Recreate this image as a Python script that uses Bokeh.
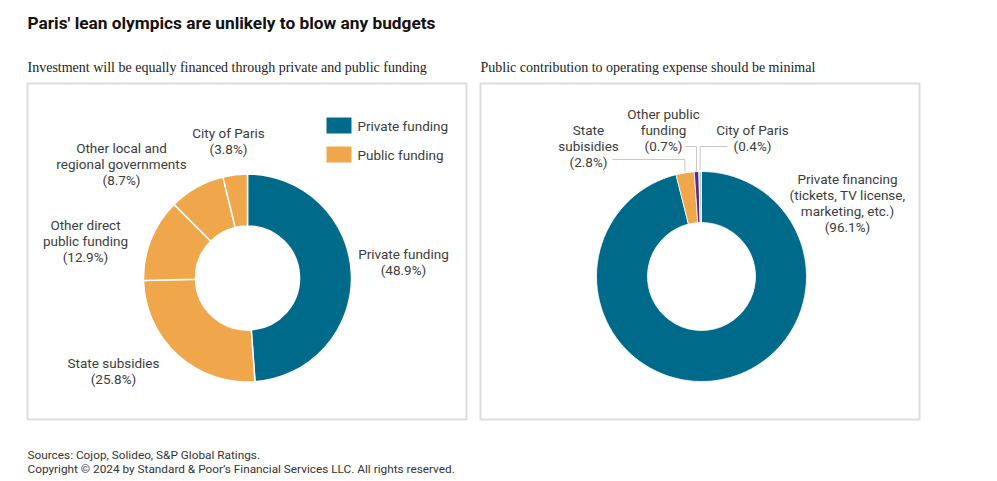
import math
from bokeh.plotting import figure
from bokeh.models import Range1d, ColumnDataSource
from bokeh.core.properties import value
from bokeh.embed import file_html
from bokeh.resources import INLINE

# ---------------- data ----------------
title_text = "Paris' lean olympics are unlikely to blow any budgets"
left_subtitle = "Investment will be equally financed through private and public funding"
right_subtitle = "Public contribution to operating expense should be minimal"
footer_lines = ["Sources: Cojop, Solideo, S&P Global Ratings.",
                "Copyright \u00a9 2024 by Standard & Poor\u2019s Financial Services LLC. All rights reserved."]

left_names = ["Private funding", "State subsidies", "Other direct\npublic funding",
              "Other local and\nregional governments", "City of Paris"]
left_values = [48.9, 25.8, 12.9, 8.7, 3.8]
left_groups = ["Private funding", "Public funding", "Public funding", "Public funding", "Public funding"]

right_names = ["Private financing\n(tickets, TV license,\nmarketing, etc.)", "State\nsubisidies",
               "Other public\nfunding", "City of Paris"]
right_values = [96.1, 2.8, 0.7, 0.4]

legend_items = ["Private funding", "Public funding"]

# ---------------- styles / layout ----------------
TEAL = "#006a8a"
ORANGE = "#f0a64a"
PURPLE = "#5b2a86"
LIGHT = "#b7d0d8"
group_colors = {"Private funding": TEAL, "Public funding": ORANGE}
right_colors = [TEAL, ORANGE, PURPLE, LIGHT]
SANS = "Roboto"
SERIF = "Liberation Serif"
LABEL_COLOR = "#3c3c3c"
LABEL_SIZE = "13.5px"

W, H = 985, 478
def Y(ry):
    return H - ry

p = figure(width=W, height=H, x_range=Range1d(0, W), y_range=Range1d(0, H),
           output_backend="svg", toolbar_location=None, min_border=0,
           x_axis_location=None, y_axis_location=None)
p.grid.visible = False
p.outline_line_color = None
p.background_fill_color = "white"
p.border_fill_color = "white"

# panel boxes
p.quad(left=[27, 480], right=[466, 919], bottom=[Y(419), Y(419)], top=[Y(83), Y(83)],
       fill_color=None, line_color="#dddddd", line_width=2)

def donut(values, colors, cx, cy, r_in, r_out, lw):
    total = sum(values)
    starts, ends = [], []
    cum = 0.0
    for v in values:
        starts.append(math.pi / 2 - 2 * math.pi * cum / total)
        cum += v
        ends.append(math.pi / 2 - 2 * math.pi * cum / total)
    src = ColumnDataSource(dict(start=starts, end=ends, color=colors))
    p.annular_wedge(x=cx, y=cy, inner_radius=r_in, outer_radius=r_out,
                    start_angle="start", end_angle="end", direction="clock",
                    fill_color="color", line_color="white", line_width=lw, source=src)
    mids = []
    cum = 0.0
    for v in values:
        mids.append(2 * math.pi * (cum + v / 2) / total)
        cum += v
    return mids

# left donut
lcx, lcy = 247, Y(277.5)
donut(left_values, [group_colors[g] for g in left_groups], lcx, lcy, 52, 104, 1.5)

# right donut
rcx, rcy = 701, Y(276)
rmids = donut(right_values, right_colors, rcx, rcy, 54, 105, 0.8)

# leader lines for right small slices
R_OUT = 105
lead_xs, lead_ys = [], []
elbow_y = [None, 159, 146, 146]
end_x = [None, 612, 685, 727]
for i in range(1, 4):
    a = rmids[i]
    sx = rcx + (R_OUT + 1) * math.sin(a)
    sy = rcy + (R_OUT + 1) * math.cos(a)
    lead_xs.append([sx, sx, end_x[i]])
    lead_ys.append([sy, Y(elbow_y[i]), Y(elbow_y[i])])
p.multi_line(xs=lead_xs, ys=lead_ys, line_color="#c8c8c8", line_width=1)

# labels
def fmt(v):
    return f"({v}%)"

left_label_pos = [(403, 261), (113, 370), (85, 240), (121, 163), (228, 140)]
right_label_pos = [(847, 202), (588, 145), (663, 129), (752, 137)]
lab_x, lab_y, lab_t = [], [], []
for name, v, (x, y) in zip(left_names, left_values, left_label_pos):
    lab_x.append(x); lab_y.append(Y(y)); lab_t.append(f"{name}\n{fmt(v)}")
for name, v, (x, y) in zip(right_names, right_values, right_label_pos):
    lab_x.append(x); lab_y.append(Y(y)); lab_t.append(f"{name}\n{fmt(v)}")
p.text(x=lab_x, y=lab_y, text=lab_t, text_align="center", text_baseline="middle",
       text_font=value(SANS), text_font_size=LABEL_SIZE, text_color=LABEL_COLOR,
       text_line_height=1.0)

# legend
leg_y = [125, 154]
p.rect(x=[338.5, 338.5], y=[Y(v) for v in leg_y], width=25, height=16,
       width_units="screen", height_units="screen",
       fill_color=[group_colors[g] for g in legend_items], line_color=None)
p.text(x=[357, 357], y=[Y(v) for v in leg_y], text=legend_items, text_align="left",
       text_baseline="middle", text_font=value(SANS), text_font_size=LABEL_SIZE,
       text_color=LABEL_COLOR)

# title
p.text(x=[27], y=[Y(22)], text=[title_text], text_align="left", text_baseline="middle",
       text_font=value(SANS), text_font_size="17.3px", text_font_style="bold",
       text_color="#111111")
# subtitles
p.text(x=[27, 480], y=[Y(67), Y(67)], text=[left_subtitle, right_subtitle],
       text_align="left", text_baseline="middle", text_font=value(SERIF),
       text_font_size="14px", text_color="#222222")
# footer
p.text(x=[27, 27], y=[Y(454), Y(468)], text=footer_lines, text_align="left",
       text_baseline="middle", text_font=value(SANS), text_font_size="11.8px",
       text_color="#333333")

open("out.html", "w").write(file_html(p, INLINE))
